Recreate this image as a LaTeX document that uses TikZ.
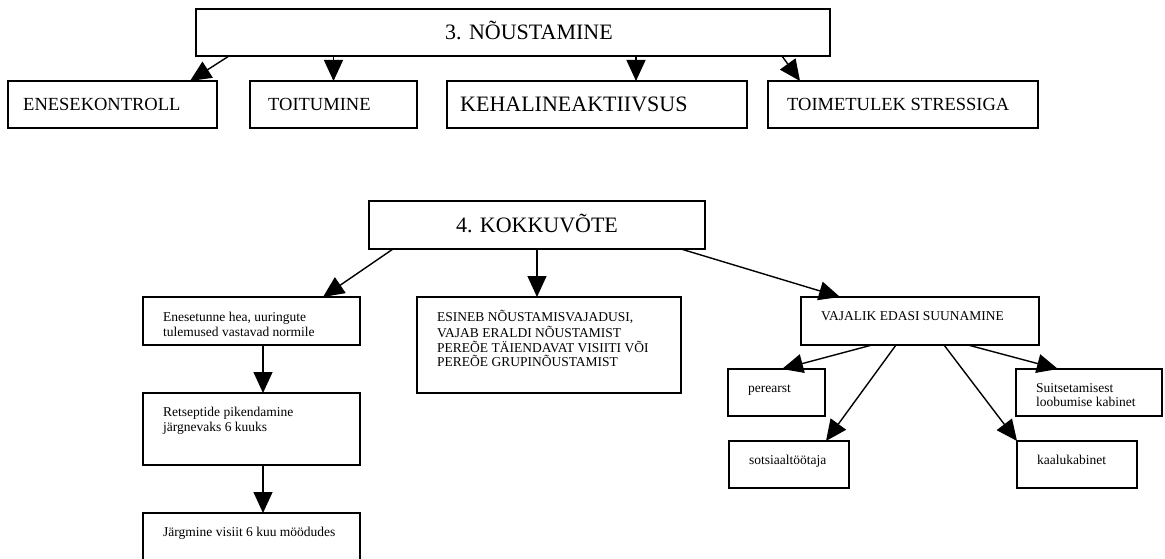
\documentclass[tikz,border=0pt]{standalone}
\usepackage{fontspec}
\setmainfont{Liberation Serif}
\usetikzlibrary{arrows.meta,calc}
\tikzset{
  box/.style={draw, line width=1.4pt, inner sep=0pt, outer sep=0pt},
  big/.style={font=\fontsize{18.5}{22}\selectfont, inner sep=0pt, anchor=base west},
  title/.style={font=\fontsize{22}{26}\selectfont, inner sep=0pt, anchor=base west},
  small/.style={font=\fontsize{13.5}{14.6}\selectfont, inner sep=0pt, anchor=north west, align=left},
  arr/.style={line width=1.4pt, -{Triangle[length=21pt,width=19pt]}},
}
\begin{document}
\begin{tikzpicture}[x=1pt,y=-1pt]
\useasboundingbox (0,0) rectangle (1165,559);
\clip (0,0) rectangle (1165,559);

% --- 3. NÕUSTAMINE ---
\node[box, minimum width=634, minimum height=47] (top) at (513,32.5) {};
\node[title, anchor=base] (topt) at ($(top.center)+(16,7.3)$) {3. NÕUSTAMINE};

\node[box, minimum width=209, minimum height=47] (ek) at (112.5,104.5) {};
\node[big] (ekt) at ($(ek.west)+(15,6.2)$) {ENESEKONTROLL};
\node[box, minimum width=167, minimum height=47] (to) at (333.5,104.5) {};
\node[big] (tot) at ($(to.west)+(18,6.2)$) {TOITUMINE};
\node[box, minimum width=300, minimum height=47] (ke) at (597,104.5) {};
\node[title] (ket) at ($(ke.west)+(13,7.3)$) {KEHALINEAKTIIVSUS};
\node[box, minimum width=270, minimum height=47] (ts) at (903,104.5) {};
\node[big] (tst) at ($(ts.west)+(19,6.2)$) {TOIMETULEK STRESSIGA};

\coordinate (ekin) at ($(ek.north west)+(182,0)$);
\coordinate (kein) at ($(ke.north west)+(189,0)$);
\coordinate (tsin) at ($(ts.north west)+(32,0)$);
\draw[arr] ($(top.south west)+(33,0)$) -- (ekin);
\draw[arr] (to.north |- top.south) -- (to.north);
\draw[arr] (kein |- top.south) -- (kein);
\draw[arr] ($(top.south west)+(586,0)$) -- (tsin);

% --- 4. KOKKUVÕTE ---
\node[box, minimum width=336, minimum height=48] (kok) at (537,225) {};
\node[title, anchor=base] (kokt) at ($(kok.center)+(0,7.3)$) {4. KOKKUVÕTE};

\node[box, minimum width=217, minimum height=48] (en) at (251.5,321) {};
\node[small] (ent) at ($(en.north west)+(20,14.5)$) {\strut Enesetunne hea, uuringute\\tulemused vastavad normile};
\node[box, minimum width=217, minimum height=72] (re) at (251.5,429) {};
\node[small] (ret) at ($(re.north west)+(20,13)$) {\strut Retseptide pikendamine\\järgnevaks 6 kuuks};
\node[box, minimum width=217, minimum height=72] (ja) at (251.5,549) {};
\node[small] (jat) at ($(ja.north west)+(20,12.6)$) {\strut Järgmine visiit 6 kuu möödudes};

\node[box, minimum width=264, minimum height=96] (es) at (549,345) {};
\node[small] (est) at ($(es.north west)+(20,12.6)$) {\strut ESINEB NÕUSTAMISVAJADUSI,\\VAJAB ERALDI NÕUSTAMIST\\PEREÕE TÄIENDAVAT VISIITI VÕI\\PEREÕE GRUPINÕUSTAMIST};

\node[box, minimum width=238, minimum height=48] (va) at (920,321) {};
\node[small] (vat) at ($(va.north west)+(20,12.6)$) {\strut VAJALIK EDASI SUUNAMINE};

\node[box, minimum width=97, minimum height=47] (pe) at (776.5,392.5) {};
\node[small] (pet) at ($(pe.north west)+(20,12.6)$) {\strut perearst};
\node[box, minimum width=146, minimum height=47] (su) at (1089,392.5) {};
\node[small] (sut) at ($(su.north west)+(20,12.6)$) {\strut Suitsetamisest\\loobumise kabinet};
\node[box, minimum width=120, minimum height=47] (so) at (789,464.5) {};
\node[small] (sot) at ($(so.north west)+(20,12.6)$) {\strut sotsiaaltöötaja};
\node[box, minimum width=120, minimum height=47] (ka) at (1077,464.5) {};
\node[small] (kat) at ($(ka.north west)+(20,12.6)$) {\strut kaalukabinet};

\coordinate (esin) at ($(es.north west)+(120,0)$);
\coordinate (enin) at ($(en.north west)+(180,0)$);
\coordinate (vain) at ($(va.north west)+(39,0)$);
\coordinate (rein) at ($(re.north west)+(120,0)$);
\coordinate (jain) at ($(ja.north west)+(120,0)$);
\draw[arr] ($(kok.south west)+(24,0)$) -- (enin);
\draw[arr] (esin |- kok.south) -- (esin);
\draw[arr] ($(kok.south west)+(312,0)$) -- (vain);
\draw[arr] (rein |- en.south) -- (rein);
\draw[arr] (jain |- re.south) -- (jain);

\draw[arr] ($(va.south west)+(71,0)$) -- ($(pe.north west)+(54,0)$);
\draw[arr] ($(va.south west)+(95,0)$) -- ($(so.north west)+(97,0)$);
\draw[arr] ($(va.south west)+(143,0)$) -- (ka.north west);
\draw[arr] ($(va.south west)+(167,0)$) -- ($(su.north west)+(42,0)$);
\end{tikzpicture}
\end{document}
